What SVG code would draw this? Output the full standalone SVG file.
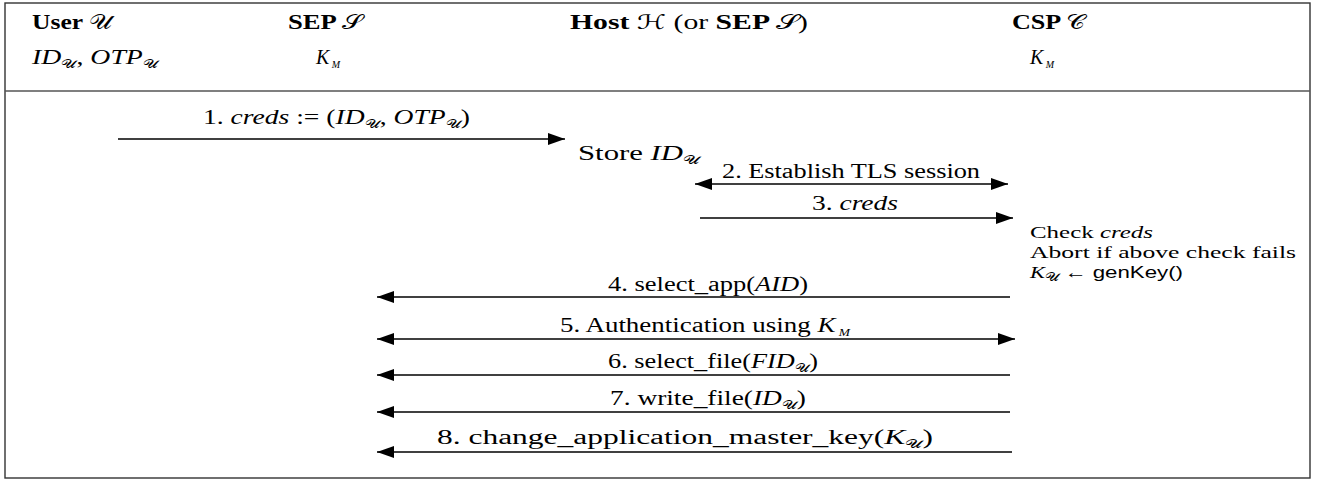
<svg xmlns="http://www.w3.org/2000/svg" width="1317" height="483" viewBox="0 0 1317 483">
<style>
text{font-family:"Liberation Serif","DejaVu Serif",serif;font-size:20px;fill:#000}
.b{font-weight:bold}
.i{font-style:italic}
.s{font-size:12px}
.ss{font-size:10px}
.sm{font-size:17px}
.sans{font-family:"Liberation Sans","DejaVu Sans",sans-serif}
.cal{font-family:"DejaVu Sans","DejaVu Serif",serif;font-style:normal;font-weight:normal}
.ln{stroke:#000;stroke-width:1.3;fill:none}
</style>
<defs>
<marker id="ah" markerUnits="userSpaceOnUse" markerWidth="18" markerHeight="12" refX="17" refY="6" orient="auto-start-reverse">
<path d="M0,0 L17,6 L0,12 z" fill="#000"/>
</marker>
</defs>
<rect id="frame" x="5" y="3" width="1305" height="475" fill="#fff" stroke="#333" stroke-width="1.4"/>
<line x1="5" y1="91" x2="1310" y2="91" stroke="#555" stroke-width="1.6"/>

<g id="user">
<text x="32" y="29" textLength="80" lengthAdjust="spacingAndGlyphs"><tspan class="b">User </tspan><tspan class="cal">𝒰</tspan></text>
<text x="32" y="64" textLength="126" lengthAdjust="spacingAndGlyphs"><tspan class="i">ID</tspan><tspan class="cal s" dy="4">𝒰</tspan><tspan dy="-4">, </tspan><tspan class="i">OTP</tspan><tspan class="cal s" dy="4">𝒰</tspan></text>
</g>
<g id="sep">
<text x="288" y="29" textLength="74" lengthAdjust="spacingAndGlyphs"><tspan class="b">SEP </tspan><tspan class="cal">𝒮</tspan></text>
<text x="316" y="64"><tspan class="i">K</tspan><tspan class="ss i" dy="4"> M</tspan></text>
</g>
<g id="host">
<text x="570" y="29" textLength="238" lengthAdjust="spacingAndGlyphs"><tspan class="b">Host </tspan><tspan class="cal">ℋ</tspan><tspan> (or </tspan><tspan class="b">SEP </tspan><tspan class="cal">𝒮</tspan><tspan>)</tspan></text>
<text x="578" y="160" textLength="122" lengthAdjust="spacingAndGlyphs">Store <tspan class="i">ID</tspan><tspan class="cal s" dy="4">𝒰</tspan></text>
</g>
<g id="csp">
<text x="1012" y="29" textLength="74" lengthAdjust="spacingAndGlyphs"><tspan class="b">CSP </tspan><tspan class="cal">𝒞</tspan></text>
<text x="1030" y="64"><tspan class="i">K</tspan><tspan class="ss i" dy="4"> M</tspan></text>
<text class="sm" x="1030" y="238" textLength="123" lengthAdjust="spacingAndGlyphs">Check <tspan class="i">creds</tspan></text>
<text class="sm" x="1030" y="258" textLength="266" lengthAdjust="spacingAndGlyphs">Abort if above check fails</text>
<text class="sm" x="1030" y="278" textLength="153" lengthAdjust="spacingAndGlyphs"><tspan class="i">K</tspan><tspan class="cal s" dy="3">𝒰</tspan><tspan dy="-3"> ← </tspan><tspan class="sans">genKey()</tspan></text>
</g>

<g id="connectors">
<line class="ln" x1="118" y1="139" x2="565" y2="139" marker-end="url(#ah)"/>
<line class="ln" x1="695" y1="184" x2="1008" y2="184" marker-start="url(#ah)" marker-end="url(#ah)"/>
<line class="ln" x1="700" y1="218" x2="1013" y2="218" marker-end="url(#ah)"/>
<line class="ln" x1="1010" y1="297" x2="377" y2="297" marker-end="url(#ah)"/>
<line class="ln" x1="377" y1="339" x2="1015" y2="339" marker-start="url(#ah)" marker-end="url(#ah)"/>
<line class="ln" x1="1010" y1="375" x2="377" y2="375" marker-end="url(#ah)"/>
<line class="ln" x1="1010" y1="412" x2="377" y2="412" marker-end="url(#ah)"/>
<line class="ln" x1="1012" y1="452" x2="377" y2="452" marker-end="url(#ah)"/>
</g>
<g id="labels">
<text x="203" y="124" textLength="267" lengthAdjust="spacingAndGlyphs">1. <tspan class="i">creds</tspan> := (<tspan class="i">ID</tspan><tspan class="cal s" dy="4">𝒰</tspan><tspan dy="-4">, </tspan><tspan class="i">OTP</tspan><tspan class="cal s" dy="4">𝒰</tspan><tspan dy="-4">)</tspan></text>
<text x="722" y="178" textLength="258" lengthAdjust="spacingAndGlyphs">2. Establish TLS session</text>
<text x="812" y="210" textLength="86" lengthAdjust="spacingAndGlyphs">3. <tspan class="i">creds</tspan></text>
<text x="608" y="291" textLength="200" lengthAdjust="spacingAndGlyphs">4. select_app(<tspan class="i">AID</tspan>)</text>
<text x="560" y="332" textLength="290" lengthAdjust="spacingAndGlyphs">5. Authentication using <tspan class="i">K</tspan><tspan class="ss i" dy="4"> M</tspan></text>
<text x="608" y="368" textLength="210" lengthAdjust="spacingAndGlyphs">6. select_file(<tspan class="i">FID</tspan><tspan class="cal s" dy="4">𝒰</tspan><tspan dy="-4">)</tspan></text>
<text x="610" y="405" textLength="196" lengthAdjust="spacingAndGlyphs">7. write_file(<tspan class="i">ID</tspan><tspan class="cal s" dy="4">𝒰</tspan><tspan dy="-4">)</tspan></text>
<text x="437" y="444" textLength="496" lengthAdjust="spacingAndGlyphs">8. change_application_master_key(<tspan class="i">K</tspan><tspan class="cal s" dy="4">𝒰</tspan><tspan dy="-4">)</tspan></text>
</g>
</svg>
